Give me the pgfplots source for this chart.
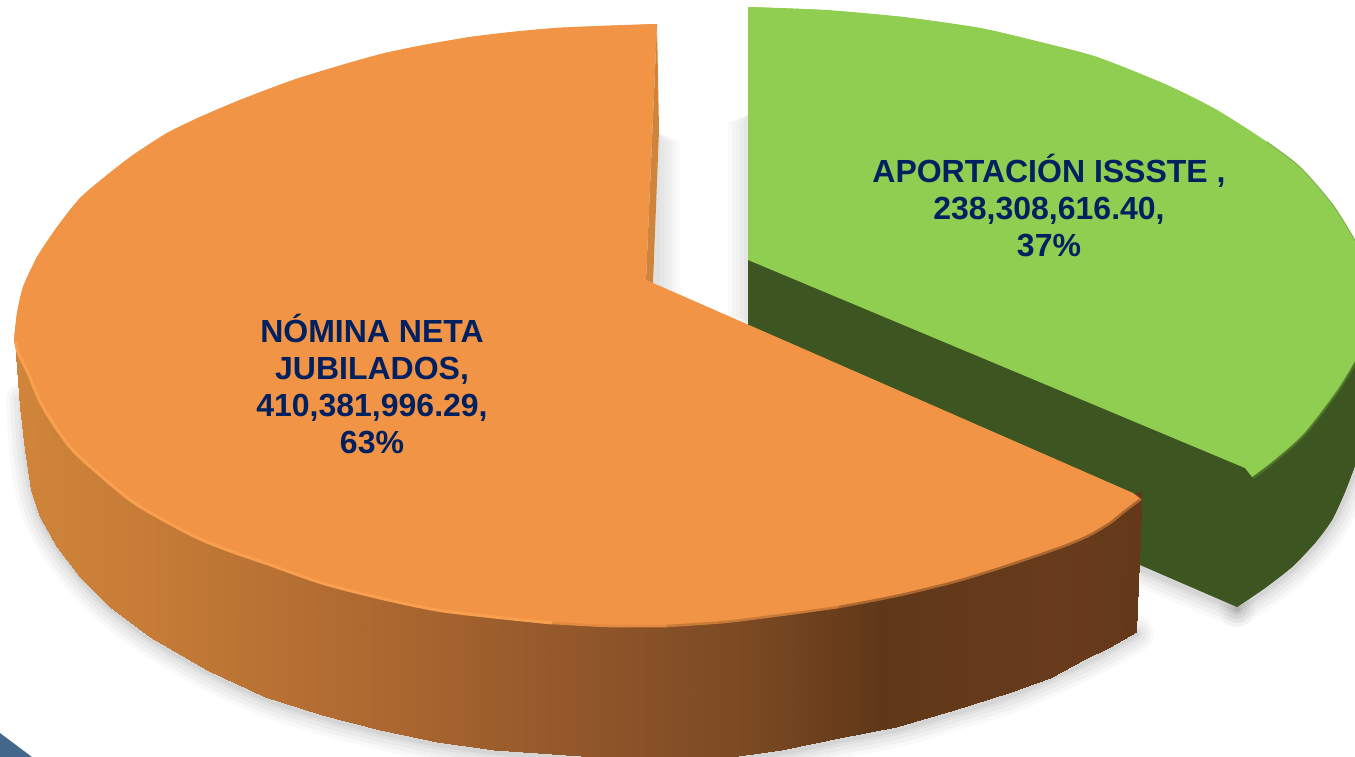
\documentclass[border=0pt]{standalone}
\usepackage{pgfplots}
\pgfplotsset{compat=1.18}
\usepackage{fontspec}
\setmainfont{Liberation Sans}
\definecolor{navy}{RGB}{0,32,96}
\definecolor{ora}{RGB}{242,148,70}
\definecolor{orastrip}{RGB}{207,132,59}
\definecolor{grn}{RGB}{143,206,80}
\definecolor{dgrn}{RGB}{60,85,33}
\definecolor{cornerblue}{RGB}{68,104,140}
\begin{document}
\begin{tikzpicture}
\useasboundingbox (0,0) rectangle (1355pt,757pt);
\begin{axis}[
  at={(0,0)},anchor=south west,
  width=1355pt,height=757pt,scale only axis,hide axis,
  xmin=0,xmax=1355,ymin=0,ymax=757,y dir=reverse,
  point meta min=0,point meta max=1140,
  colormap={side}{rgb255(0pt)=(209,134,58) rgb255(150pt)=(198,124,55) rgb255(400pt)=(170,102,47) rgb255(600pt)=(143,85,42) rgb255(750pt)=(122,73,34) rgb255(880pt)=(96,56,24) rgb255(1050pt)=(103,59,28) rgb255(1140pt)=(100,57,26)},
]
% shadows of the gap
\foreach \w in {0,4,8,12,16,20}{
  \edef\tmp{\noexpand\addplot[draw=none,fill=black,fill opacity=0.02,forget plot] coordinates {(748,115) (\the\numexpr 728+\w\relax,122) (\the\numexpr 728+\w\relax,316) (748,325)} --cycle;}
  \tmp
  \edef\tmp{\noexpand\addplot[draw=none,fill=black,fill opacity=0.02,forget plot] coordinates {(658,133) (\the\numexpr 680-\w\relax,142) (\the\numexpr 680-\w\relax,296) (652,283)} --cycle;}
  \tmp
}
% outer shadow
\foreach \w/\o in {36/0.025,28/0.03,20/0.03,12/0.04,6/0.05}{
  \edef\tmp{\noexpand\addplot[draw=black,line width=\w pt,opacity=\o,line join=round,line cap=round,smooth,forget plot] coordinates {
   (24,400) (27,450) (33,490) (42,519) (59,549) (82,579) (112,609) (152,639) (209,672) (267,699) (324,717) (382,732) (439,744) (496,752) (554,756) (611,759) (726,759) (783,752) (841,740) (898,729) (956,712) (1013,694) (1085,662) (1136,634)};}
  \tmp
  \edef\tmp{\noexpand\addplot[draw=black,line width=\w pt,opacity=\o,line join=round,line cap=round,smooth,forget plot] coordinates {
   (1140,568) (1237,609)};}
  \tmp
  \edef\tmp{\noexpand\addplot[draw=black,line width=\w pt,opacity=\o,line join=round,line cap=round,smooth,forget plot] coordinates {
   (1237,609) (1265,590) (1292,569) (1315,545) (1332,522) (1345,495) (1357,463)};}
  \tmp
}
% green side
\addplot[draw=none,fill=dgrn,forget plot] coordinates {
 (748,255) (1248,466) (1300,425) (1340,380) (1356,350) (1356,463) (1345,492) (1332,520) (1315,543) (1292,567) (1265,588) (1237,607) (1140,565) (748,325)} --cycle;
\addplot[draw=none,fill=dgrn,smooth,forget plot] coordinates {(1356,463) (1345,492) (1332,520) (1315,543) (1292,567) (1265,588) (1237,607)};
% green top
\addplot[draw=none,fill=grn,forget plot] coordinates {
 (748,7) (825,10) (903,17) (980,28) (1040,42) (1097,57) (1167,85) (1217,110) (1267,142) (1300,167) (1333,205) (1356,242) (1356,360) (1338,390) (1305,433) (1275,460) (1252,477) (1245,468) (748,260)} --cycle;
\addplot[draw=none,fill=grn,smooth,forget plot] coordinates {
 (748,7) (825,10) (903,17) (980,28) (1040,42) (1097,57) (1167,85) (1217,110) (1267,142) (1300,167) (1333,205) (1356,242)};
\addplot[draw=none,fill=grn,smooth,forget plot] coordinates {(1356,360) (1338,390) (1305,433) (1275,460) (1252,477)};
\addplot[draw=black!40!grn,line width=2.5pt,opacity=.7,smooth,forget plot] coordinates {(1253,478) (1275,461) (1305,434) (1338,391) (1357,360)};
\addplot[draw=black!35!grn,line width=1pt,opacity=.5,smooth,forget plot] coordinates {(1267,142) (1300,167) (1333,205) (1356,242)};
% orange side
\addplot[surf,shader=interp,mesh/rows=2,point meta=explicit,forget plot] table[meta=c] {
x y c
18 340 15
20 350 18
25 360 25
35 385 35
45 400 45
60 425 60
80 450 80
110 475 110
150 500 150
207 530 207
265 555 265
322 577 322
380 593 380
437 605 437
494 612 494
552 618 552
609 621 609
667 621 667
724 617 724
781 610 781
839 603 839
896 592 896
954 575 954
1011 555 1011
1050 540 1050
1083 525 1083
1110 510 1110
1142 490 1142
16 355 15
20 407 18
25 450 25
31 490 35
40 517 45
57 547 60
80 577 80
110 607 110
150 637 150
207 670 207
265 697 265
322 715 322
380 730 380
437 742 437
494 750 494
552 754 552
609 758 609
667 760 667
724 758 724
781 750 781
839 738 839
896 727 896
954 710 954
1011 692 1011
1050 678 1050
1083 660 1083
1110 647 1110
1136 632 1142
};
% orange top
\addplot[draw=none,fill=ora,forget plot] coordinates {
 (657,24) (555,28) (470,37) (385,53) (299,78) (240,100) (200,117) (167,133) (133,155) (107,175) (80,198) (57,227) (37,257) (23,287) (17,313) (14,340) (17,352) (28,373) (43,407) (70,447) (100,475) (133,502) (167,522) (200,539) (233,552) (265,563) (322,583) (380,598) (437,610) (494,617) (552,623) (609,626) (667,626) (724,622) (781,615) (839,607) (896,596) (954,582) (1000,568) (1030,558) (1067,545) (1090,535) (1110,523) (1125,511) (1141,499) (1133,493) (653,283) (646,280)} --cycle;
\addplot[draw=none,fill=ora,smooth,forget plot] coordinates {(657,24) (555,28) (470,37) (385,53) (299,78) (240,100) (200,117) (167,133) (133,155) (107,175) (80,198) (57,227) (37,257) (23,287) (17,313) (14,340)};
\addplot[draw=none,fill=ora,smooth,forget plot] coordinates {(14,340) (17,352) (28,373) (43,407) (70,447) (100,475) (133,502) (167,522) (200,539) (233,552) (265,563) (322,583) (380,598) (437,610) (494,617) (552,623) (609,626)};
\addplot[draw=none,fill=ora,smooth,forget plot] coordinates {(609,626) (667,626) (724,622) (781,615) (839,607) (896,596) (954,582) (1000,568) (1030,558) (1067,545) (1090,535) (1110,523) (1125,511) (1141,499)};
% strip at the cut
\addplot[draw=none,fill=orastrip,forget plot] coordinates {(657,24) (659,130) (653,283) (646,280)} --cycle;
% rims
\addplot[draw={rgb,255:red,248;green,160;blue,80},line width=3pt,smooth,forget plot] coordinates {(16,342) (18,352) (28,373) (43,407) (70,447) (100,475) (133,502) (167,522) (200,539) (233,552) (265,563) (322,583) (380,598) (437,610) (494,617) (552,623)};
\addplot[draw={rgb,255:red,226;green,138;blue,66},line width=2.5pt,smooth,forget plot] coordinates {(552,623) (609,626) (667,626)};
\addplot[draw={rgb,255:red,200;green,122;blue,56},line width=2.5pt,smooth,forget plot] coordinates {(667,626) (724,622) (781,615) (839,607)};
\addplot[draw={rgb,255:red,172;green,104;blue,48},line width=2.5pt,smooth,forget plot] coordinates {(839,607) (896,596) (954,582) (1000,568) (1030,558) (1067,545) (1090,535) (1110,523) (1125,511) (1141,499)};
% corner
\addplot[draw=none,fill=cornerblue,forget plot] coordinates {(0,733) (32,757) (0,757)} --cycle;
\node[align=center,text=navy,font=\fontsize{32}{37}\selectfont\bfseries] at (axis cs:1049,205) {APORTACIÓN ISSSTE ,\\238,308,616.40,\\37\%};
\node[align=center,text=navy,font=\fontsize{32}{37}\selectfont\bfseries] at (axis cs:372,383.5) {NÓMINA NETA\\JUBILADOS,\\410,381,996.29,\\63\%};
\end{axis}
\end{tikzpicture}
\end{document}
